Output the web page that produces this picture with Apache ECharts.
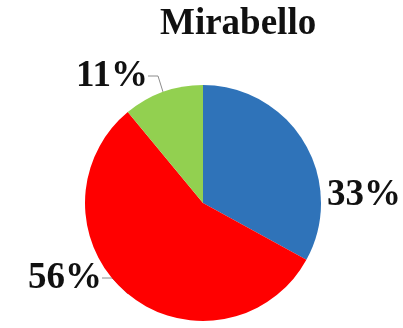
<!DOCTYPE html>
<html>
<head>
<meta charset="utf-8">
<script src="https://cdn.jsdelivr.net/npm/echarts@6/dist/echarts.min.js"></script>
<style>
  html, body { margin: 0; padding: 0; background: #fff; }
  #chart { width: 403px; height: 328px; }
</style>
</head>
<body>
<div id="chart"></div>
<script>
// slices, clockwise from 12 o'clock
const categories = ['A', 'B', 'C'];
const values = [33, 56, 11];
const sliceColors = ['#2f73b9', '#ff0000', '#92d050'];
const titleText = 'Mirabello';

const myChart = echarts.init(document.getElementById('chart'));

// where each percent label sits (Excel-like placement), by data index
const labelSpots = [
  { x: 327, y: 195, align: 'left' },
  { x: 102, y: 278, align: 'right' },
  { x: 148, y: 76, align: 'right' }
];

const chartOption = {
  animation: false,
  title: {
    text: titleText,
    left: 155,
    top: 1,
    textStyle: {
      fontFamily: 'Liberation Serif',
      fontWeight: 'bold',
      fontSize: 37,
      color: '#111'
    }
  },
  series: [
    {
      type: 'pie',
      center: [203, 203],
      radius: 118,
      startAngle: 90,
      clockwise: true,
      data: categories.map((c, i) => ({
        name: c,
        value: values[i],
        itemStyle: { color: sliceColors[i] },
        labelLine: { show: i !== 0 }
      })),
      label: {
        show: true,
        position: 'outside',
        overflow: 'none',
        formatter: p => Math.round(p.percent) + '%',
        fontFamily: 'Liberation Serif',
        fontWeight: 'bold',
        fontSize: 37,
        color: '#111'
      },
      labelLine: {
        show: true,
        length: 6,
        length2: 10,
        lineStyle: { color: '#8c8c8c', width: 1 }
      },
      labelLayout: function (params) {
        const s = labelSpots[params.dataIndex];
        return { x: s.x, y: s.y, align: s.align, verticalAlign: 'middle' };
      }
    }
  ]
};
myChart.setOption(chartOption);
</script>
</body>
</html>
